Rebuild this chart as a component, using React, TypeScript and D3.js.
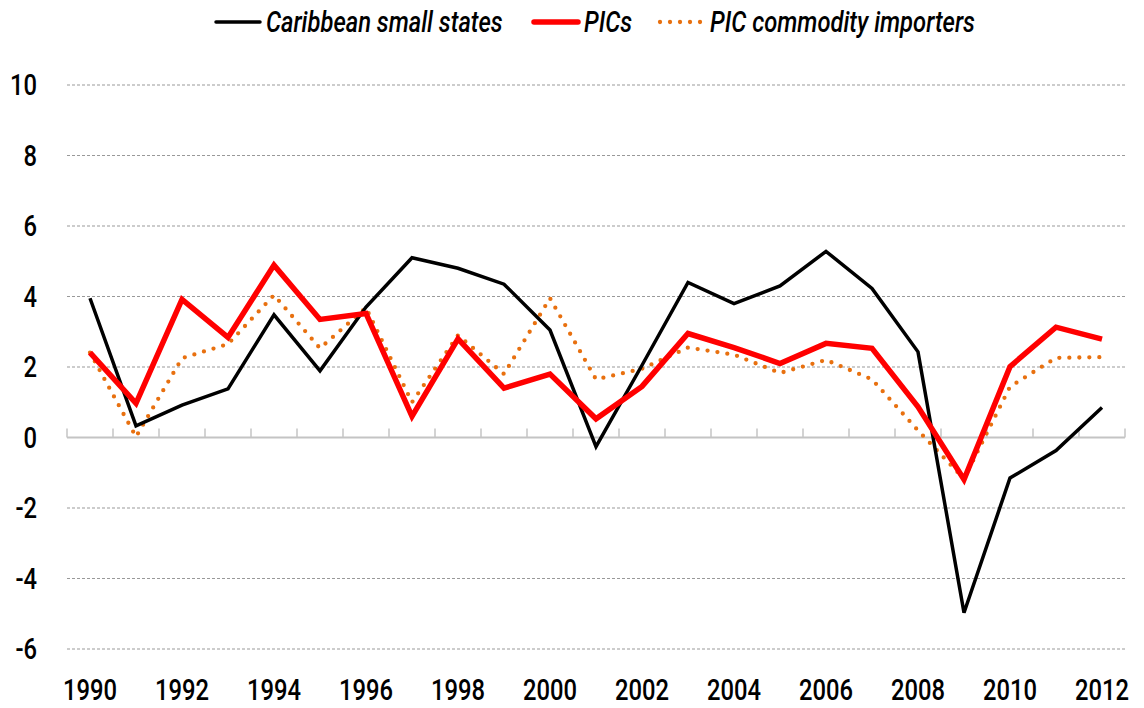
import React, { useEffect, useRef } from "react";
import * as d3 from "d3";

const years = [
  1990, 1991, 1992, 1993, 1994, 1995, 1996, 1997, 1998, 1999, 2000, 2001,
  2002, 2003, 2004, 2005, 2006, 2007, 2008, 2009, 2010, 2011, 2012,
];
const caribbean = [
  3.95, 0.33, 0.92, 1.38, 3.48, 1.89, 3.7, 5.1, 4.8, 4.35, 3.05, -0.26, 2.05,
  4.4, 3.8, 4.3, 5.28, 4.23, 2.43, -4.97, -1.15, -0.37, 0.85,
];
const pics = [
  2.41, 0.97, 3.92, 2.84, 4.89, 3.35, 3.52, 0.6, 2.8, 1.4, 1.8, 0.53, 1.45,
  2.95, 2.55, 2.1, 2.67, 2.53, 0.87, -1.19, 2.01, 3.13, 2.79,
];
const picImporters = [
  2.41, 0.02, 2.25, 2.65, 4.04, 2.53, 3.68, 1.0, 2.9, 1.8, 3.95, 1.65, 1.95,
  2.55, 2.35, 1.83, 2.2, 1.65, 0.2, -1.17, 1.44, 2.26, 2.28,
];
const yTicks = [-6, -4, -2, 0, 2, 4, 6, 8, 10];
const xLabels = [1990, 1992, 1994, 1996, 1998, 2000, 2002, 2004, 2006, 2008, 2010, 2012];
const seriesNames = ["Caribbean small states", "PICs", "PIC commodity importers"];

const FONT = "Roboto, 'DejaVu Sans Condensed', sans-serif";
const SQUEEZE = 0.82; // narrow the font to look like a condensed face

const App = () => {
  const ref = useRef<SVGSVGElement | null>(null);

  useEffect(() => {
    if (!ref.current) return;
    const svg = d3.select(ref.current);
    svg.selectAll("*").remove();

    const width = 1144;
    const height = 708;
    const margin = { top: 85, right: 19, bottom: 59, left: 67 };

    const x = d3
      .scaleBand<number>()
      .domain(years)
      .range([margin.left, width - margin.right]);
    const y = d3
      .scaleLinear()
      .domain([-6, 10])
      .range([height - margin.bottom, margin.top]);
    const cx = (yr: number) => (x(yr) as number) + x.bandwidth() / 2;

    const label = (g: any, px: number, py: number, txt: string, anchor: string, italic = false) =>
      g
        .append("text")
        .attr("transform", `translate(${px},${py}) scale(${SQUEEZE},1)`)
        .attr("text-anchor", anchor)
        .style("font-family", FONT)
        .style("font-size", "29px")
        .style("font-weight", 500)
        .style("font-style", italic ? "italic" : "normal")
        .attr("fill", "#000")
        .text(txt);

    // dashed gridlines (not at zero)
    svg
      .append("g")
      .selectAll("line")
      .data(yTicks.filter((t) => t !== 0))
      .enter()
      .append("line")
      .attr("x1", margin.left)
      .attr("x2", width - margin.right)
      .attr("y1", (d) => y(d))
      .attr("y2", (d) => y(d))
      .attr("stroke", "#999")
      .attr("stroke-width", 1)
      .attr("stroke-dasharray", "3,2");

    // y labels
    const gy = svg.append("g");
    yTicks.forEach((t) => label(gy, 37, y(t) + 10, String(t), "end"));

    // zero axis with category ticks
    const zero = y(0);
    svg
      .append("line")
      .attr("x1", margin.left)
      .attr("x2", width - margin.right)
      .attr("y1", zero)
      .attr("y2", zero)
      .attr("stroke", "#c4c4c4")
      .attr("stroke-width", 2);
    const bounds = years.map((yr) => x(yr) as number).concat([width - margin.right]);
    svg
      .append("g")
      .selectAll("line")
      .data(bounds)
      .enter()
      .append("line")
      .attr("x1", (d) => d)
      .attr("x2", (d) => d)
      .attr("y1", zero)
      .attr("y2", zero - 9)
      .attr("stroke", "#c4c4c4")
      .attr("stroke-width", 1.5);

    // x labels
    const gx = svg.append("g");
    xLabels.forEach((yr) => label(gx, cx(yr), 700, String(yr), "middle"));

    const line = d3
      .line<number>()
      .x((d, i) => cx(years[i]))
      .y((d) => y(d));

    svg
      .append("path")
      .datum(picImporters)
      .attr("fill", "none")
      .attr("stroke", "#e8700f")
      .attr("stroke-width", 4.3)
      .attr("stroke-linecap", "round")
      .attr("stroke-dasharray", "0,10")
      .attr("d", line);

    svg
      .append("path")
      .datum(caribbean)
      .attr("fill", "none")
      .attr("stroke", "#000")
      .attr("stroke-width", 3.5)
      .attr("d", line);

    svg
      .append("path")
      .datum(pics)
      .attr("fill", "none")
      .attr("stroke", "#ff0000")
      .attr("stroke-width", 5.5)
      .attr("d", line);

    // legend
    const legend = [
      { label: seriesNames[0], color: "#000", w: 3.5, dash: null, x0: 216 },
      { label: seriesNames[1], color: "#ff0000", w: 5.5, dash: null, x0: 534 },
      { label: seriesNames[2], color: "#e8700f", w: 4.3, dash: "0,10", x0: 660 },
    ];
    const lg = svg.append("g");
    legend.forEach((l) => {
      lg.append("line")
        .attr("x1", l.x0)
        .attr("x2", l.x0 + 44)
        .attr("y1", 22)
        .attr("y2", 22)
        .attr("stroke", l.color)
        .attr("stroke-width", l.w)
        .attr("stroke-linecap", "round")
        .attr("stroke-dasharray", l.dash);
      label(lg, l.x0 + 50, 32, l.label, "start", true);
    });
  }, []);

  return (
    <svg
      ref={ref}
      width={1144}
      height={708}
      style={{ position: "absolute", left: 0, top: 0, background: "#fff" }}
    />
  );
};

export default App;
